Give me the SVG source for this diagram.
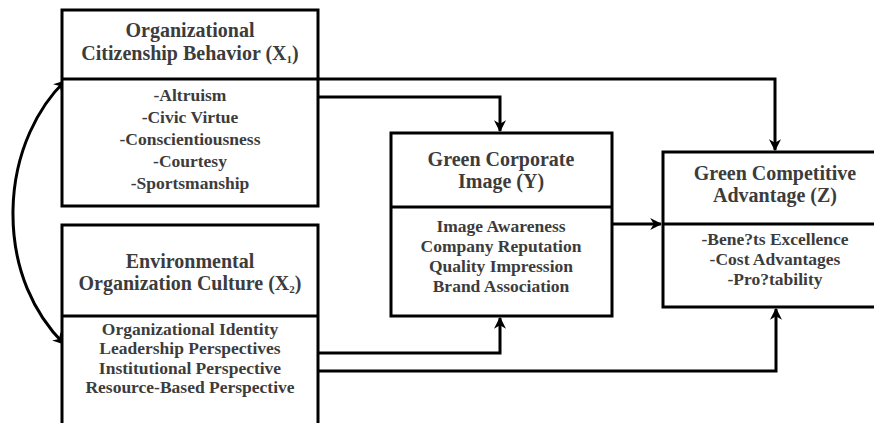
<svg xmlns="http://www.w3.org/2000/svg" width="874" height="423" viewBox="0 0 874 423">
<defs>
<style>
.box{fill:#fff;stroke:#000;stroke-width:3}
.div{stroke:#000;stroke-width:3}
.con{fill:none;stroke:#000;stroke-width:3}
text{font-family:"Liberation Serif","Times New Roman",serif;font-weight:bold;fill:#3c3c3c;text-anchor:middle}
.t{font-size:20px}
.i{font-size:17.5px}
.sub{font-size:11px}
</style>
<marker id="ah" viewBox="0 0 10 10" refX="9" refY="5" markerWidth="4" markerHeight="4" orient="auto-start-reverse" markerUnits="strokeWidth">
<path d="M0,0 L10,5 L0,10 L3,5 z" fill="#000"/>
</marker>
</defs>
<rect width="874" height="423" fill="#fff"/>

<g id="connectors">
<path class="con" d="M318,79 H775 V150" marker-end="url(#ah)"/>
<path class="con" d="M318,97 H500 V131" marker-end="url(#ah)"/>
<path class="con" d="M612,224 H661" marker-end="url(#ah)"/>
<path class="con" d="M318,353 H500 V318" marker-end="url(#ah)"/>
<path class="con" d="M318,371 H776 V309" marker-end="url(#ah)"/>
<path class="con" d="M65,81 C40,105 14,150 13,210 C12,270 35,315 64,344" marker-start="url(#ah)" marker-end="url(#ah)"/>
</g>

<g id="x1">
<rect class="box" x="62" y="10" width="256" height="196"/>
<line class="div" x1="62" y1="79" x2="318" y2="79"/>
<text class="t" x="190" y="37">Organizational</text>
<text class="t" x="190" y="60">Citizenship Behavior (X<tspan class="sub" dy="3">1</tspan><tspan dy="-3">)</tspan></text>
<text class="i" x="190" y="101">-Altruism</text>
<text class="i" x="190" y="123">-Civic Virtue</text>
<text class="i" x="190" y="145">-Conscientiousness</text>
<text class="i" x="190" y="167">-Courtesy</text>
<text class="i" x="190" y="189">-Sportsmanship</text>
</g>

<g id="x2">
<path class="box" d="M62,426 V225 H318 V426"/>
<line class="div" x1="62" y1="316" x2="318" y2="316"/>
<text class="t" x="190" y="268">Environmental</text>
<text class="t" x="190" y="290">Organization Culture (X<tspan class="sub" dy="3">2</tspan><tspan dy="-3">)</tspan></text>
<text class="i" x="190" y="335">Organizational Identity</text>
<text class="i" x="190" y="354">Leadership Perspectives</text>
<text class="i" x="190" y="374">Institutional Perspective</text>
<text class="i" x="190" y="393">Resource-Based Perspective</text>
</g>

<g id="y">
<rect class="box" x="391" y="133" width="221" height="183"/>
<line class="div" x1="391" y1="207" x2="612" y2="207"/>
<text class="t" x="501" y="166">Green Corporate</text>
<text class="t" x="501" y="188">Image (Y)</text>
<text class="i" x="501" y="232">Image Awareness</text>
<text class="i" x="501" y="252">Company Reputation</text>
<text class="i" x="501" y="272">Quality Impression</text>
<text class="i" x="501" y="292">Brand Association</text>
</g>

<g id="z">
<rect class="box" x="663" y="152" width="230" height="155"/>
<line class="div" x1="663" y1="224" x2="880" y2="224"/>
<text class="t" x="775" y="180">Green Competitive</text>
<text class="t" x="775" y="202">Advantage (Z)</text>
<text class="i" x="775" y="245">-Bene?ts Excellence</text>
<text class="i" x="775" y="265">-Cost Advantages</text>
<text class="i" x="775" y="285">-Pro?tability</text>
</g>
</svg>
